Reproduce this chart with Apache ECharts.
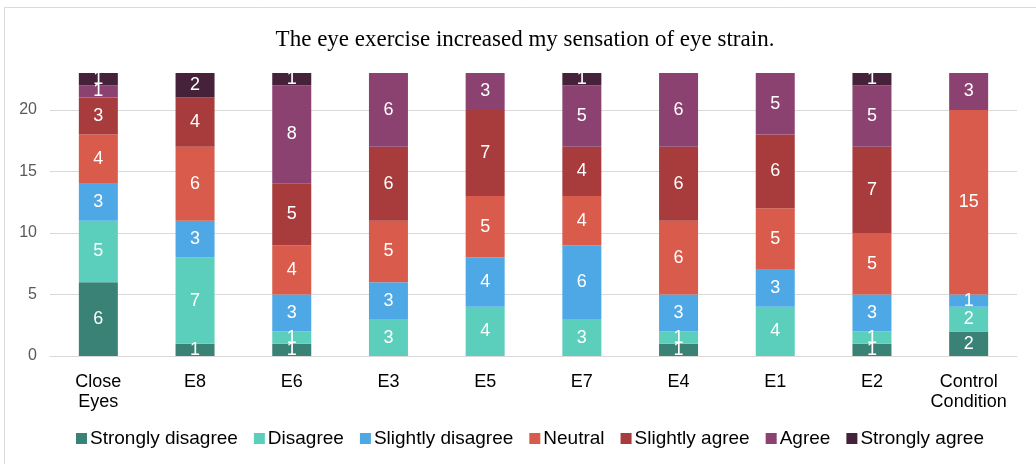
<!DOCTYPE html>
<html>
<head>
<meta charset="utf-8">
<script src="https://cdn.jsdelivr.net/npm/echarts@6/dist/echarts.min.js"></script>
<style>
  html, body { margin: 0; padding: 0; background: #fff; }
  #chart { width: 1036px; height: 464px; }
</style>
</head>
<body>
<div id="chart"></div>
<script>
const categories = ["Close\nEyes", "E8", "E6", "E3", "E5", "E7", "E4", "E1", "E2", "Control\nCondition"];
const seriesNames = ["Strongly disagree", "Disagree", "Slightly disagree", "Neutral", "Slightly agree", "Agree", "Strongly agree"];
const stronglyDisagree = [6, 1, 1, 0, 0, 0, 1, 0, 1, 2];
const disagree = [5, 7, 1, 3, 4, 3, 1, 4, 1, 2];
const slightlyDisagree = [3, 3, 3, 3, 4, 6, 3, 3, 3, 1];
const neutral = [4, 6, 4, 5, 5, 4, 6, 5, 5, 15];
const slightlyAgree = [3, 4, 5, 6, 7, 4, 6, 6, 7, 0];
const agree = [1, 0, 8, 6, 3, 5, 6, 5, 5, 3];
const stronglyAgree = [1, 2, 1, 0, 0, 1, 0, 0, 1, 0];
const colors = ["#3a8275", "#5bcfbc", "#4ea8e6", "#d95b4b", "#a83b3b", "#8b4270", "#45213a"];

const values = [stronglyDisagree, disagree, slightlyDisagree, neutral, slightlyAgree, agree, stronglyAgree];

const chart = echarts.init(document.getElementById("chart"));

chart.setOption({
  color: colors,
  animation: false,
  title: {
    text: "The eye exercise increased my sensation of eye strain.",
    left: 520,
    textAlign: "center",
    top: 23,
    textStyle: {
      fontFamily: "Liberation Serif",
      fontWeight: "normal",
      fontSize: 23,
      color: "#000",
    },
  },
  grid: {
    left: 50,
    right: 19,
    top: 73,
    bottom: 108,
  },
  legend: {
    bottom: 11,
    left: 71,
    itemWidth: 11,
    itemHeight: 11,
    itemGap: 16,
    icon: "rect",
    textStyle: {
      fontFamily: "Liberation Sans",
      fontSize: 19,
      color: "#000",
      padding: [0, 0, 0, -2],
    },
    data: seriesNames,
  },
  xAxis: {
    type: "category",
    data: categories,
    axisLine: { show: true, lineStyle: { color: "#d9d9d9", width: 1 } },
    axisTick: { show: false },
    axisLabel: {
      interval: 0,
      fontFamily: "Liberation Sans",
      fontSize: 18,
      color: "#000",
      margin: 16,
      lineHeight: 20,
    },
  },
  yAxis: {
    type: "value",
    min: 0,
    max: 23,
    interval: 5,
    axisLine: { show: false },
    axisTick: { show: false },
    axisLabel: {
      fontFamily: "Liberation Sans",
      fontSize: 16,
      color: "#595959",
      margin: 13,
      showMaxLabel: false,
    },
    splitLine: {
      showMaxLine: false,
      lineStyle: { color: "#d9d9d9", width: 1 },
    },
  },
  graphic: [
    {
      type: "rect",
      shape: { x: 4.5, y: 7.5, width: 1040, height: 470 },
      style: { fill: "none", stroke: "#d9d9d9", lineWidth: 1 },
      silent: true,
    },
  ],
  series: seriesNames.map((name, i) => ({
    name: name,
    type: "bar",
    stack: "total",
    barWidth: 39,
    data: values[i],
    label: {
      show: true,
      position: "inside",
      color: "#fff",
      fontFamily: "Liberation Sans",
      fontSize: 18,
      formatter: (p) => (p.value === 0 ? "" : p.value),
    },
  })),
});
</script>
</body>
</html>
